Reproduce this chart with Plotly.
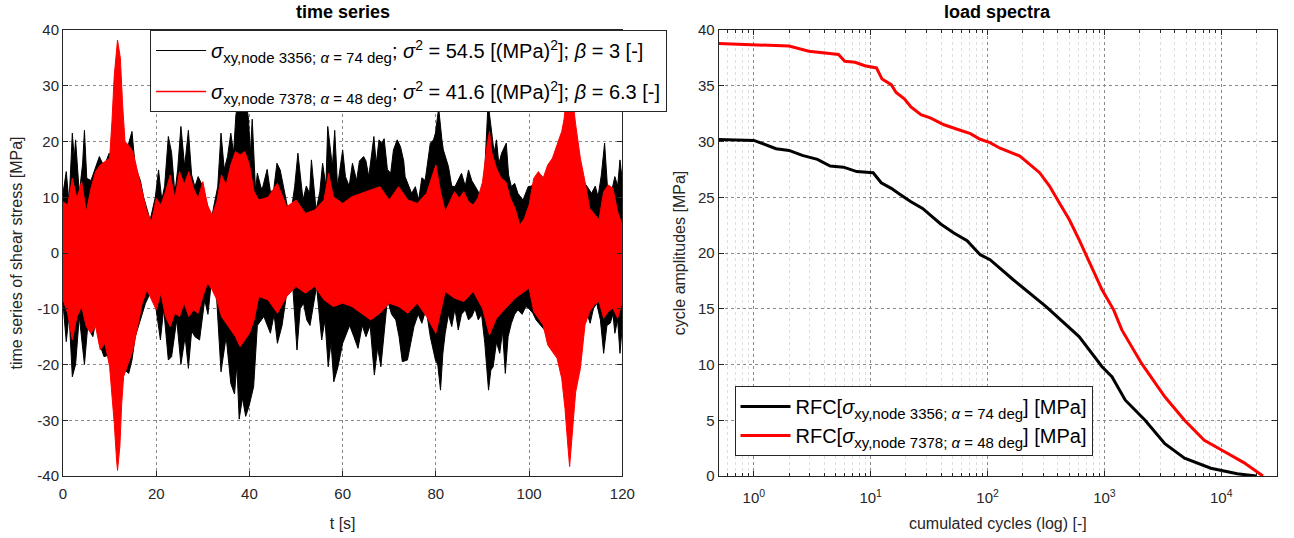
import math
import plotly.graph_objects as go

# ---------------- time series envelopes ----------------
# node 3356 (black): upper / lower peak envelope
t_b_up = [0, 0.7, 1.3, 2.0, 2.4, 2.7, 3.5, 4.2, 4.6, 5.1, 6.0, 7.0, 7.8, 8.8, 9.9,
          10.6, 11.5, 12.5, 13.4, 14.1, 14.8, 15.5, 16.6, 17.3, 18.7, 19.8, 20.5, 21.2, 21.8,
          22.6, 23.3, 24.0, 24.6, 25.3, 26.1, 26.9, 27.6, 28.3, 29.0, 30.0, 30.9, 31.8, 32.5,
          33.2, 33.9, 34.6, 35.3, 36.0, 36.6, 37.1, 37.8, 38.5, 39.2, 39.8, 40.2, 40.6, 41.3,
          41.7, 42.4, 42.7, 43.8, 44.5, 45.2, 45.9, 46.6, 47.3, 47.6, 48.7, 49.7, 50.4, 51.5,
          52.2, 52.9, 53.3, 54.3, 55.1, 55.7, 56.4, 56.8, 57.8, 58.3, 58.9, 60.0, 60.6, 61.4,
          62.1, 63.0, 63.6, 64.5, 65.0, 65.6, 66.7, 67.2, 67.8, 68.4, 68.9, 69.6, 70.3, 70.9,
          71.7, 72.4, 73.1, 73.4, 74.2, 74.8, 75.6, 76.3, 77.0, 77.7, 78.8, 79.5, 79.9, 80.6,
          81.3, 81.6, 82.7, 83.4, 84.1, 84.8, 85.5, 86.3, 87.0, 87.7, 88.4, 89.1, 89.8, 90.5,
          91.2, 91.9, 92.5, 93.0, 93.5, 94.1, 95.1, 95.6, 96.2, 96.9, 97.6, 98.7, 99.8, 100.5,
          101.5, 102.5, 103.5, 104.5, 105.5, 106.5, 107.5, 108.5, 109.5, 110.5, 111.3, 112.4,
          113.4, 114.2, 114.8, 115.5, 116.2, 116.8, 117.3, 118.0, 118.4, 119.0, 119.5, 120.0]
v_b_up = [10.7, 14.6, 9.0, 21.5, 17.0, 20.3, 10.7, 16.0, 22.0, 13.4, 13.0, 15.5, 17.3, 15.5, 17.9,
          15.0, 16.0, 17.0, 18.0, 19.7, 21.8, 15.5, 13.0, 10.0, 5.9, 10.0, 14.9, 9.5, 12.0,
          20.9, 18.0, 10.7, 15.0, 22.7, 15.5, 22.0, 14.0, 11.9, 13.7, 11.9, 9.0, 5.9, 9.0,
          11.9, 21.5, 15.0, 17.3, 21.5, 18.0, 24.8, 28.0, 25.6, 28.0, 24.0, 17.9, 24.0, 11.3,
          14.3, 12.0, 11.3, 15.0, 11.0, 11.3, 16.1, 14.9, 12.0, 10.7, 6.0, 11.9, 17.9, 9.5,
          12.0, 10.7, 16.7, 7.7, 11.0, 16.1, 12.0, 22.7, 15.5, 22.0, 11.9, 18.5, 13.7, 12.0,
          16.1, 13.0, 16.5, 17.3, 16.5, 13.7, 20.9, 16.0, 20.3, 19.7, 20.5, 15.0, 14.3, 18.5,
          20.3, 19.1, 16.5, 13.7, 11.9, 10.7, 11.9, 9.5, 13.5, 13.0, 19.7, 20.3, 21.5, 26.0,
          20.3, 18.5, 15.5, 12.0, 11.9, 13.0, 14.3, 12.0, 14.9, 13.0, 11.9, 11.0, 10.1, 15.0,
          27.0, 21.5, 18.0, 20.3, 16.0, 17.9, 19.7, 14.0, 11.9, 12.5, 10.7, 9.5, 11.9, 12.0,
          13.0, 14.0, 13.0, 15.0, 14.0, 16.0, 15.0, 16.0, 15.0, 14.0, 13.0, 12.0,
          10.7, 12.0, 10.1, 14.0, 19.7, 12.0, 9.5, 12.0, 13.7, 12.0, 16.7, 13.0]
t_b_lo = [0, 0.7, 1.3, 2.0, 2.7, 3.5, 4.0, 4.6, 5.3, 6.4, 7.1, 7.8, 8.8, 9.9, 10.5, 11.5, 12.5,
          13.3, 14.1, 14.8, 15.5, 16.6, 17.7, 18.7, 19.8, 20.9, 21.6, 22.6, 23.3, 24.4, 25.3,
          26.2, 26.9, 27.6, 28.3, 29.3, 30.4, 31.1, 31.8, 32.9, 33.9, 35.0, 36.0, 36.8, 37.3,
          37.8, 38.5, 39.2, 39.9, 40.9, 41.7, 43.1, 44.5, 45.3, 46.0, 47.0, 48.1, 49.1, 50.2,
          50.9, 51.6, 52.3, 53.0, 54.4, 55.5, 56.2, 56.9, 57.5, 58.1, 59.0, 60.0, 61.5, 62.4,
          63.3, 64.2, 65.0, 65.9, 66.8, 67.5, 68.2, 69.6, 70.5, 71.4, 72.1, 72.8, 73.9, 75.3,
          76.2, 77.0, 77.9, 78.8, 79.9, 80.4, 81.0, 81.5, 82.0, 82.7, 83.4, 84.1, 84.8, 85.5,
          86.3, 87.0, 87.7, 88.4, 89.1, 89.8, 90.5, 91.3, 91.8, 92.3, 93.0, 93.7, 94.3, 94.9,
          95.5, 96.2, 96.9, 97.6, 98.5, 99.3, 100.0, 100.8, 101.5, 102.5, 103.5, 104.5, 105.5,
          106.5, 107.5, 108.5, 109.5, 110.5, 111.5, 112.5, 113.1, 113.8, 114.5, 115.3, 116.0,
          116.7, 117.4, 118.0, 118.4, 119.0, 119.5, 120.0]
v_b_lo = [-9.0, -15.9, -11.0, -22.2, -20.0, -11.4, -15.0, -20.0, -13.2, -15.0, -12.0, -16.2, -18.6,
          -18.3, -17.0, -18.0, -19.0, -21.0, -21.6, -19.2, -15.0, -12.0, -9.0, -7.2, -9.0, -15.6,
          -10.0, -19.2, -18.6, -12.0, -20.0, -15.0, -20.7, -14.0, -15.0, -15.6, -8.4, -11.0, -5.4,
          -7.2, -21.3, -15.0, -23.4, -25.3, -20.0, -29.8, -26.0, -29.3, -27.5, -24.0, -13.0, -11.4,
          -14.4, -11.0, -16.2, -13.0, -6.6, -3.6, -17.4, -10.0, -9.0, -12.0, -13.0, -6.0, -15.6,
          -12.0, -20.4, -16.0, -23.1, -20.4, -16.2, -13.0, -15.0, -17.1, -13.0, -15.0, -13.0,
          -21.9, -17.0, -20.4, -8.4, -11.0, -12.0, -15.0, -19.5, -19.2, -13.2, -11.0, -12.6,
          -10.0, -15.0, -19.2, -20.0, -24.6, -18.0, -14.4, -11.0, -13.2, -10.0, -13.8, -11.0,
          -10.2, -12.0, -11.4, -10.0, -12.0, -11.0, -16.2, -24.6, -21.0, -20.4, -16.0, -18.0,
          -14.0, -21.6, -15.0, -12.6, -11.0, -10.2, -11.0, -9.6, -10.0, -10.8, -12.0, -13.0,
          -14.0, -13.0, -15.0, -14.0, -16.0, -15.0, -16.0, -14.0, -13.0, -11.0, -12.6, -10.0,
          -9.0, -12.0, -18.0, -13.0, -12.6, -11.0, -14.4, -12.0, -18.0, -13.0]

# node 7378 (red): upper / lower peak envelope
t_r_up = [0, 1, 2, 3, 4, 5, 6, 7, 8, 9, 10, 10.5, 11, 11.7, 12.3, 12.8, 13.3, 14, 15, 16, 17,
          18, 19, 20, 21, 22, 23, 24, 25, 26, 27, 28, 29, 30, 31, 32, 33, 34, 35, 36, 37, 38,
          39, 40, 41, 42, 44, 46, 48, 50, 52, 54, 56, 57, 58, 60, 62, 64, 66, 68, 70, 72, 74,
          76, 78, 80, 81, 82, 83, 84, 85, 86, 87, 88, 89, 90, 91, 91.5, 92, 93, 94, 95, 96, 97,
          98, 99, 100, 101, 102, 103, 104, 105, 106, 107, 107.5, 108, 108.7, 109.3, 110, 111,
          112, 113, 114, 115, 116, 117, 118, 119, 120]
v_r_up = [9.2, 8.6, 13.4, 9.8, 12.8, 7.4, 11.6, 14.6, 15.8, 16.4, 17.0, 23.6, 31.9, 38.2, 35.0,
          26.5, 20.0, 19.4, 18.2, 14.6, 11.0, 7.4, 5.6, 9.8, 8.6, 11.0, 14.0, 9.8, 14.6, 12.3,
          14.6, 11.6, 9.8, 12.8, 8.6, 6.8, 9.2, 14.0, 12.2, 15.8, 18.2, 17.6, 18.2, 15.8, 11.0,
          9.5, 10.0, 12.5, 8.3, 9.5, 7.1, 7.7, 9.5, 14.3, 10.1, 8.9, 10.1, 10.7, 11.3, 11.9, 9.5,
          11.9, 9.5, 8.9, 10.7, 15.8, 11.0, 7.4, 9.2, 11.0, 9.8, 11.0, 9.2, 8.6, 9.8, 12.7, 19.4,
          21.8, 18.0, 15.2, 13.4, 12.8, 9.8, 8.0, 5.0, 6.2, 8.6, 13.4, 14.6, 13.4, 15.8, 17.0,
          19.4, 21.8, 24.0, 28.0, 31.0, 28.0, 23.0, 17.0, 12.8, 8.0, 7.0, 6.0, 11.0, 12.2, 11.6,
          7.4, 5.0]
t_r_lo = [0, 1, 2, 3, 4, 5, 6, 7, 8, 9, 10, 10.5, 11, 11.5, 11.7, 12.2, 12.6, 13, 14, 15, 16,
          17, 18, 19, 20, 21, 22, 23, 24, 25, 26, 27, 28, 29, 30, 31, 32, 33, 34, 35, 36, 37,
          38, 39, 40, 41, 42, 44, 46, 48, 50, 52, 54, 56, 58, 60, 62, 64, 66, 68, 70, 72, 74,
          76, 78, 80, 82, 84, 86, 88, 90, 91.5, 93, 95, 97, 99, 100, 101, 102, 103, 104, 105,
          106, 107, 107.7, 108.3, 108.7, 109.2, 109.7, 110, 111, 112, 113, 114, 115, 116, 117,
          118, 119, 120]
v_r_lo = [-8.4, -10.8, -15.6, -11.4, -9.6, -13.2, -14.4, -13.2, -17.4, -16.2, -20.4, -25.8,
          -30.6, -37.2, -39.0, -34.7, -27.0, -22.2, -19.8, -17.4, -13.2, -9.0, -6.6, -8.4, -10.2,
          -7.2, -11.4, -13.2, -10.8, -11.4, -9.0, -11.4, -10.2, -10.8, -7.8, -5.4, -6.6, -8.4,
          -11.4, -12.6, -13.8, -15.0, -16.8, -15.6, -14.4, -12.0, -7.8, -8.4, -10.8, -7.8, -6.0,
          -7.2, -6.0, -8.4, -9.6, -9.0, -9.6, -10.8, -12.0, -10.8, -9.0, -9.6, -10.8, -9.0,
          -11.4, -14.4, -6.9, -8.1, -8.7, -6.9, -9.9, -14.7, -11.7, -9.9, -8.1, -6.9, -6.3,
          -10.5, -11.7, -12.9, -16.5, -17.7, -18.9, -22.5, -27.9, -34.4, -38.3, -33.8, -27.9,
          -24.9, -20.7, -12.9, -10.5, -9.3, -8.7, -11.7, -10.5, -9.9, -11.7, -8.7]

# ---------------- load spectra (rainflow counts) ----------------
cyc_black = [0.5, 1.0, 1.55, 2.0, 2.6, 3.5, 4.5, 5.85, 7.6, 10.5, 12.3, 15, 17.6, 22.1, 27.8,
             32.7, 39.7, 51.5, 66.8, 86.5, 105, 166, 317, 607, 955, 1160, 1510, 2230, 3290,
             4850, 8150, 13700, 19950]
amp_black = [30.18, 30.1, 29.35, 29.2, 28.75, 28.4, 27.8, 27.7, 27.3, 27.2, 26.3, 25.8, 25.3,
             24.6, 24.0, 23.35, 22.6, 21.8, 21.1, 19.85, 19.4, 17.6, 15.2, 12.5, 9.8, 8.9, 6.8,
             5.0, 2.9, 1.6, 0.7, 0.2, 0.0]
cyc_red = [0.5, 2.0, 2.96, 5.3, 6.0, 7.35, 8.9, 11.2, 12.5, 15, 16.5, 19.5, 22.1, 26.9, 32.7,
           42.4, 55, 71.3, 86.5, 105, 128, 189, 279, 339, 411, 500, 607, 714, 955, 1200, 1410,
           2080, 3290, 4850, 7160, 10600, 15600, 22750]
amp_red = [38.78, 38.56, 38.1, 37.8, 37.2, 37.1, 36.8, 36.6, 35.6, 35.1, 34.4, 33.8, 33.1, 32.4,
           32.1, 31.5, 31.1, 30.7, 30.2, 29.9, 29.4, 28.7, 27.2, 26.0, 24.5, 23.0, 21.2, 19.6,
           16.7, 14.9, 13.1, 10.1, 7.1, 5.0, 3.2, 2.2, 1.2, 0.0]

ts_xticks = [0, 20, 40, 60, 80, 100, 120]
ts_yticks = [-40, -30, -20, -10, 0, 10, 20, 30, 40]
ts_yticktext = ["-40", "-30", "-20", "-10", "0", "10", "20", "30", "40"]
ls_xticks = [1, 10, 100, 1000, 10000]
ls_xticktext = ["10<sup>0</sup>", "10<sup>1</sup>", "10<sup>2</sup>", "10<sup>3</sup>", "10<sup>4</sup>"]
ls_yticks = [0, 5, 10, 15, 20, 25, 30, 35, 40]

SUB = '<span style="font-size:15px">'
lbl_b = ("<i>σ</i><sub>" + SUB + "xy,node 3356; <i>α</i> = 74 deg</span></sub>; "
         "<i>σ</i><sup>2</sup> = 54.5 [(MPa)<sup>2</sup>]; <i>β</i> = 3 [-]")
lbl_r = ("<i>σ</i><sub>" + SUB + "xy,node 7378; <i>α</i> = 48 deg</span></sub>; "
         "<i>σ</i><sup>2</sup> = 41.6 [(MPa)<sup>2</sup>]; <i>β</i> = 6.3 [-]")
lbl_rfc_b = "RFC[<i>σ</i><sub>" + SUB + "xy,node 3356; <i>α</i> = 74 deg</span></sub>] [MPa]"
lbl_rfc_r = "RFC[<i>σ</i><sub>" + SUB + "xy,node 7378; <i>α</i> = 48 deg</span></sub>] [MPa]"

BLACK = "#000000"
RED = "#ff0000"
AX = "#262626"
FONT = "Liberation Sans, Arial, sans-serif"

fig = go.Figure()


def band(t_up, v_up, t_lo, v_lo, color):
    xs = list(t_up) + list(reversed(t_lo))
    ys = list(v_up) + list(reversed(v_lo))
    fig.add_trace(go.Scatter(x=xs, y=ys, mode="lines", fill="toself", fillcolor=color,
                             line=dict(color=color, width=1), showlegend=False,
                             hoverinfo="skip", xaxis="x", yaxis="y"))


band(t_b_up, v_b_up, t_b_lo, v_b_lo, BLACK)
band(t_r_up, v_r_up, t_r_lo, v_r_lo, RED)

# legend entries of the time series
fig.add_trace(go.Scatter(x=[None], y=[None], mode="lines", line=dict(color=BLACK, width=1.2),
                         name=lbl_b, legend="legend", legendgroup="b", xaxis="x", yaxis="y"))
fig.add_trace(go.Scatter(x=[None], y=[None], mode="lines", line=dict(color=RED, width=1.5),
                         name=lbl_r, legend="legend", legendgroup="r", xaxis="x", yaxis="y"))

# load spectra
fig.add_trace(go.Scatter(x=cyc_black, y=amp_black, mode="lines", line=dict(color=BLACK, width=3),
                         name=lbl_rfc_b, legend="legend2", legendgroup="rb",
                         xaxis="x2", yaxis="y2"))
fig.add_trace(go.Scatter(x=cyc_red, y=amp_red, mode="lines", line=dict(color=RED, width=3),
                         name=lbl_rfc_r, legend="legend2", legendgroup="rr",
                         xaxis="x2", yaxis="y2"))

W, H = 1294, 538
ml, mr, mt, mb = 63, 4, 30, 62
pw = W - ml - mr
ph = H - mt - mb


def px_x(p):
    return (p - ml) / pw


def px_y(p):
    return (H - mb - p) / ph


common = dict(showline=True, linecolor=AX, linewidth=1, mirror="allticks", ticks="inside",
              ticklen=5, tickcolor=AX, showgrid=True, gridcolor="#8a8a8a", griddash="dot",
              gridwidth=1, zeroline=False, tickfont=dict(size=15, color=AX, family=FONT))

fig.update_layout(
    width=W, height=H,
    margin=dict(l=ml, r=mr, t=mt, b=mb),
    paper_bgcolor="white", plot_bgcolor="white",
    font=dict(family=FONT, color=AX, size=15),
    xaxis=dict(domain=[0, px_x(628.3)], range=[0, 120], tickmode="array", tickvals=ts_xticks,
               anchor="y", ticklabelstandoff=4,
               title=dict(text="t [s]", font=dict(size=16, color=AX), standoff=16),
               **common),
    yaxis=dict(domain=[0, 1], range=[-40, 40], tickmode="array", tickvals=ts_yticks,
               ticktext=ts_yticktext, anchor="x",
               title=dict(text="time series of shear stress [MPa]",
                          font=dict(size=16, color=AX), standoff=10),
               **common),
    xaxis2=dict(domain=[px_x(725.7), 1], type="log",
                range=[math.log10(0.5), math.log10(30000)], tickmode="array",
                tickvals=ls_xticks, ticktext=ls_xticktext, anchor="y2", ticklabelstandoff=8,
                minor=dict(dtick="D1", showgrid=True, gridcolor="#dedede", griddash="dot",
                           ticks="inside", ticklen=3, tickcolor=AX),
                title=dict(text="cumulated cycles (log) [-]", font=dict(size=16, color=AX),
                           standoff=12),
                **common),
    yaxis2=dict(domain=[0, 1], range=[0, 40], tickmode="array", tickvals=ls_yticks,
                anchor="x2", title=dict(text="cycle amplitudes [MPa]",
                                        font=dict(size=16, color=AX), standoff=8),
                **common),
    legend=dict(x=px_x(151), y=1.0, xanchor="left", yanchor="top", bgcolor="white",
                bordercolor=AX, borderwidth=1, font=dict(size=20, color="#000000", family=FONT),
                itemwidth=50, tracegroupgap=12, traceorder="grouped"),
    legend2=dict(x=px_x(741.7), y=px_y(456), xanchor="left", yanchor="bottom",
                 bgcolor="white", bordercolor=AX, borderwidth=1,
                 font=dict(size=20, color="#000000", family=FONT), itemwidth=50,
                 tracegroupgap=0, traceorder="grouped"),
    showlegend=True,
    annotations=[
        dict(text="<b>time series</b>", x=(0 + px_x(628.3)) / 2, y=px_y(12), xref="paper",
             yref="paper", showarrow=False, font=dict(size=18, color="#000000", family=FONT),
             xanchor="center", yanchor="middle"),
        dict(text="<b>load spectra</b>", x=(px_x(725.7) + 1) / 2, y=px_y(12), xref="paper",
             yref="paper", showarrow=False, font=dict(size=18, color="#000000", family=FONT),
             xanchor="center", yanchor="middle"),
    ],
)

fig.write_html("out.html", config={"displayModeBar": False},
               post_script="document.body.style.margin='0';document.body.style.padding='0';")
